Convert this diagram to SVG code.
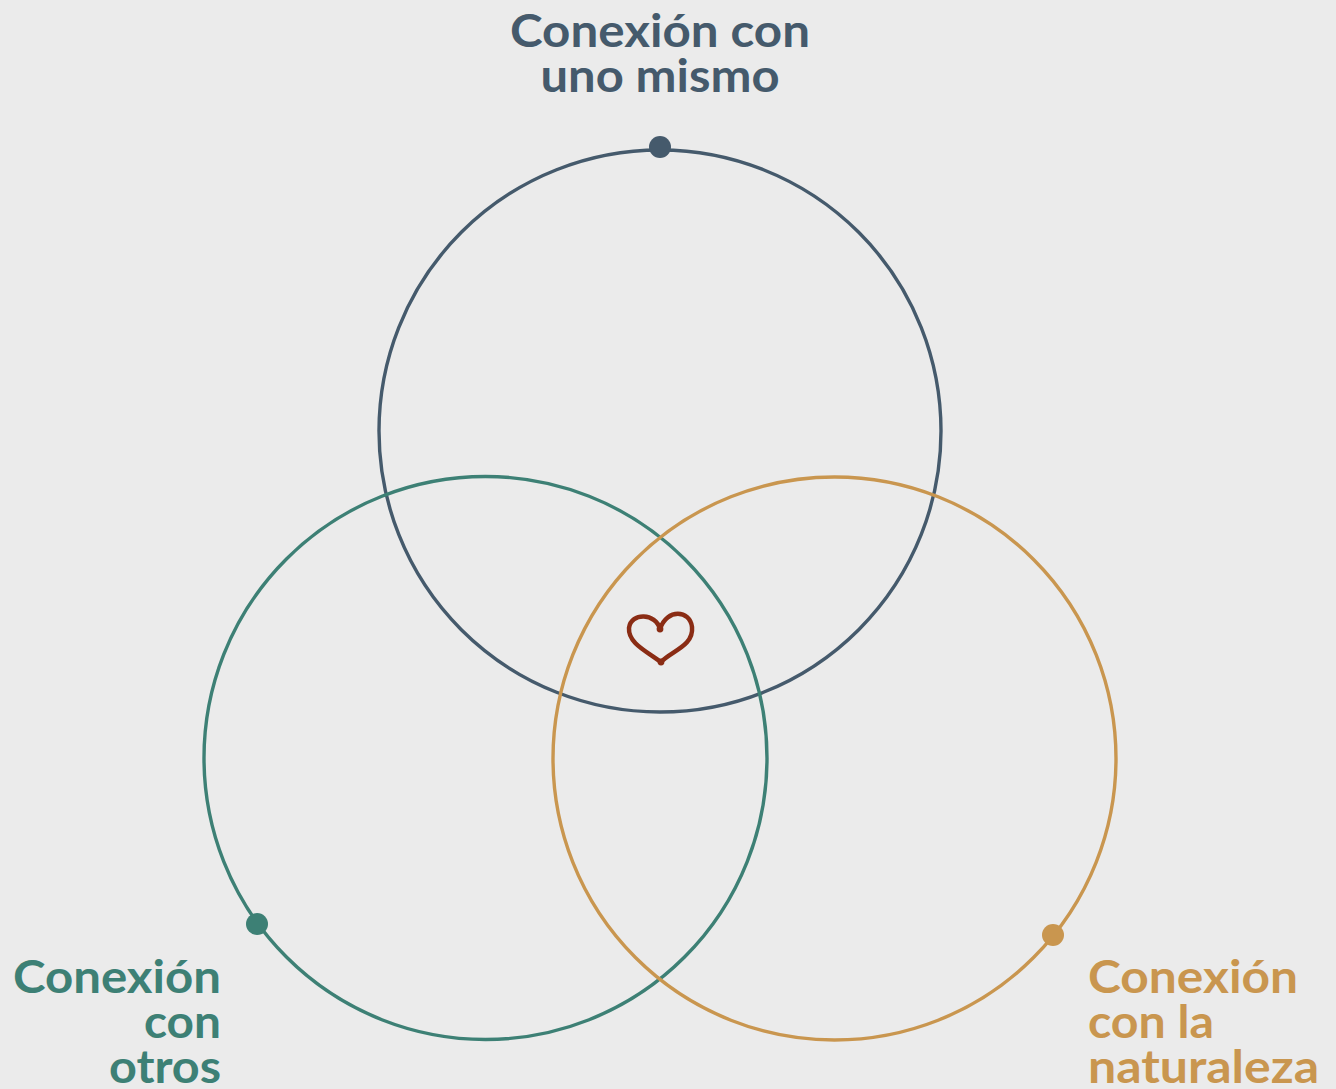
<svg xmlns="http://www.w3.org/2000/svg" width="1336" height="1089" viewBox="0 0 1336 1089">
<style>
.ring{fill:none;stroke-width:3.4}
.lbl{font-family:Lato,"Open Sans","Liberation Sans",sans-serif;font-weight:700;font-size:45px}
</style>
<rect width="1336" height="1089" fill="#ebebeb"/>
<g id="connectors"></g>
<g id="self">
<circle class="ring" cx="660" cy="431" r="281" stroke="#455a6c"/>
<circle cx="660" cy="147" r="11" fill="#455a6c"/>
<text class="lbl" fill="#455a6c" text-anchor="middle"><tspan x="660" y="47" textLength="300" lengthAdjust="spacingAndGlyphs">Conexión con</tspan><tspan x="660" y="92" textLength="239" lengthAdjust="spacingAndGlyphs">uno mismo</tspan></text>
</g>
<g id="others">
<circle class="ring" cx="485.5" cy="758" r="281.5" stroke="#3d8075"/>
<circle cx="257" cy="924" r="11" fill="#3d8075"/>
<text class="lbl" fill="#3d8075" text-anchor="end"><tspan x="221" y="993" textLength="208" lengthAdjust="spacingAndGlyphs">Conexión</tspan><tspan x="221" y="1038" textLength="77" lengthAdjust="spacingAndGlyphs">con</tspan><tspan x="221" y="1083" textLength="112" lengthAdjust="spacingAndGlyphs">otros</tspan></text>
</g>
<g id="nature">
<circle class="ring" cx="834.5" cy="758.5" r="281.5" stroke="#c9964f"/>
<circle cx="1053" cy="935" r="11" fill="#c9964f"/>
<text class="lbl" fill="#c9964f"><tspan x="1088" y="993" textLength="210" lengthAdjust="spacingAndGlyphs">Conexión</tspan><tspan x="1088" y="1038" textLength="126" lengthAdjust="spacingAndGlyphs">con la</tspan><tspan x="1088" y="1083" textLength="231" lengthAdjust="spacingAndGlyphs">naturaleza</tspan></text>
</g>
<g id="heart">
<path d="M660,629 C656,613 631,612 629,628 C628,643 646,651 661,662 C671,651 694,646 692,627 C690,610 667,608 660,629" fill="none" stroke="#8a2c14" stroke-width="4.5" stroke-linecap="round" stroke-linejoin="round"/>
<circle cx="660" cy="629" r="3.4" fill="#8a2c14"/>
<circle cx="661" cy="662" r="3.4" fill="#8a2c14"/>
</g>
</svg>
